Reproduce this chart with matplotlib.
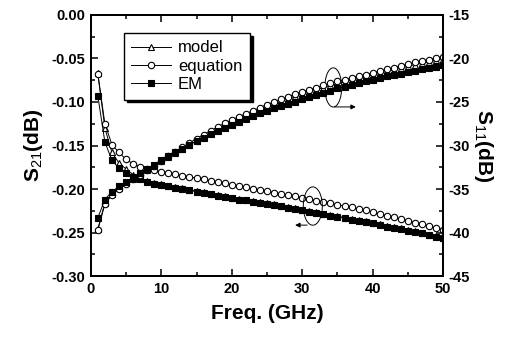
import matplotlib
matplotlib.use('Agg')
import matplotlib.pyplot as plt
import numpy as np
from matplotlib.patches import Ellipse
from matplotlib.ticker import MultipleLocator, FormatStrFormatter

plt.rcParams['font.family'] = ['Liberation Sans', 'DejaVu Sans']
plt.rcParams['axes.unicode_minus'] = False
plt.rcParams['mathtext.fontset'] = 'custom'
plt.rcParams['mathtext.rm'] = 'Liberation Sans'
plt.rcParams['mathtext.bf'] = 'Liberation Sans:bold'

freq = list(range(1, 51))

# S21 (left axis, dB)
s21_model = [-0.067, -0.130, -0.158, -0.170, -0.177, -0.1835, -0.1875, -0.1905, -0.193, -0.1947,
             -0.1962, -0.1977, -0.1992, -0.2007, -0.2022, -0.2037, -0.2052, -0.2067, -0.2082, -0.2097,
             -0.2112, -0.2122, -0.2137, -0.2147, -0.2162, -0.2177, -0.2192, -0.2207, -0.2222, -0.2237,
             -0.2252, -0.2267, -0.2282, -0.2297, -0.2312, -0.2327, -0.2342, -0.2357, -0.2372, -0.2387,
             -0.2402, -0.2422, -0.2437, -0.2452, -0.2472, -0.2487, -0.2502, -0.2522, -0.2542, -0.2559]
s21_equation = [-0.068, -0.125, -0.149, -0.158, -0.166, -0.171, -0.1745, -0.177, -0.1785, -0.180,
                -0.1815, -0.183, -0.1845, -0.186, -0.1875, -0.189, -0.1905, -0.192, -0.1935, -0.195,
                -0.1965, -0.198, -0.1995, -0.201, -0.2025, -0.204, -0.2055, -0.207, -0.2085, -0.210,
                -0.2115, -0.2135, -0.215, -0.2165, -0.218, -0.2195, -0.221, -0.223, -0.2245, -0.2265,
                -0.2285, -0.2305, -0.2325, -0.2345, -0.2365, -0.2385, -0.2405, -0.2425, -0.2445, -0.2465]
s21_em = [-0.093, -0.146, -0.167, -0.176, -0.182, -0.1865, -0.189, -0.192, -0.194, -0.1955,
          -0.197, -0.1985, -0.200, -0.2015, -0.203, -0.2045, -0.206, -0.2075, -0.209, -0.2105,
          -0.212, -0.213, -0.2145, -0.2155, -0.217, -0.2185, -0.220, -0.2215, -0.223, -0.2245,
          -0.226, -0.2275, -0.229, -0.2305, -0.232, -0.2335, -0.235, -0.2365, -0.238, -0.2395,
          -0.241, -0.243, -0.2445, -0.246, -0.248, -0.2495, -0.251, -0.253, -0.255, -0.2567]

# S11 (right axis, dB)
s11_model = [-39.6, -36.6, -35.6, -34.9, -34.35, -33.85, -33.3, -32.8, -32.3, -31.8,
             -31.35, -30.85, -30.35, -29.9, -29.45, -29.0, -28.55, -28.1, -27.7, -27.3,
             -26.95, -26.6, -26.25, -25.9, -25.55, -25.25, -24.95, -24.65, -24.35, -24.1,
             -23.85, -23.6, -23.35, -23.1, -22.9, -22.7, -22.5, -22.3, -22.1, -21.9,
             -21.7, -21.5, -21.3, -21.1, -20.9, -20.7, -20.55, -20.4, -20.2, -20.05]
s11_equation = [-39.7, -36.7, -35.7, -35.0, -34.4, -33.9, -33.35, -32.8, -32.3, -31.8,
                -31.2, -30.7, -30.2, -29.7, -29.2, -28.75, -28.3, -27.85, -27.45, -27.05,
                -26.7, -26.35, -26.0, -25.65, -25.3, -25.0, -24.7, -24.4, -24.1, -23.85,
                -23.6, -23.35, -23.1, -22.85, -22.65, -22.45, -22.25, -22.05, -21.85, -21.65,
                -21.45, -21.25, -21.05, -20.85, -20.65, -20.45, -20.3, -20.15, -19.95, -19.8]
s11_em = [-38.3, -36.2, -35.3, -34.7, -34.2, -33.7, -33.2, -32.7, -32.2, -31.7,
          -31.25, -30.8, -30.35, -29.9, -29.5, -29.1, -28.7, -28.3, -27.95, -27.6,
          -27.25, -26.9, -26.6, -26.3, -26.0, -25.7, -25.45, -25.2, -24.95, -24.7,
          -24.45, -24.2, -23.95, -23.7, -23.45, -23.25, -23.05, -22.85, -22.65, -22.45,
          -22.25, -22.05, -21.9, -21.75, -21.6, -21.4, -21.25, -21.1, -20.95, -20.75]

fig = plt.figure(figsize=(5.1, 3.38), dpi=100)
ax = fig.add_axes([0.178, 0.183, 0.691, 0.773])
ax2 = ax.twinx()

lw = 0.7
mk = dict(color='k', lw=lw, mec='k', mew=0.8)
h1, = ax.plot(freq, s21_model, marker='^', ms=4.6, mfc='white', label='model', **mk)
h2, = ax.plot(freq, s21_equation, marker='o', ms=4.6, mfc='white', label='equation', **mk)
h3, = ax.plot(freq, s21_em, marker='s', ms=3.8, mfc='k', label='EM', **mk)
ax2.plot(freq, s11_model, marker='^', ms=4.6, mfc='white', **mk)
ax2.plot(freq, s11_equation, marker='o', ms=4.6, mfc='white', **mk)
ax2.plot(freq, s11_em, marker='s', ms=3.8, mfc='k', **mk)

ax.set_xlim(0, 50)
ax.set_ylim(-0.30, 0.00)
ax2.set_ylim(-45, -15)

ax.xaxis.set_major_locator(MultipleLocator(10))
ax.xaxis.set_minor_locator(MultipleLocator(5))
ax.yaxis.set_major_locator(MultipleLocator(0.05))
ax.yaxis.set_minor_locator(MultipleLocator(0.025))
ax.yaxis.set_major_formatter(FormatStrFormatter('%.2f'))
ax2.yaxis.set_major_locator(MultipleLocator(5))
ax2.yaxis.set_minor_locator(MultipleLocator(2.5))

ax.tick_params(which='both', direction='in', top=True, right=False, width=1.1,
               labelsize=10.5, pad=4)
ax.tick_params(which='major', length=5)
ax.tick_params(which='minor', length=3)
ax2.tick_params(which='both', direction='in', width=1.1, labelsize=10.5, pad=4)
ax2.tick_params(which='major', length=5)
ax2.tick_params(which='minor', length=3)
for lab in ax.get_xticklabels() + ax.get_yticklabels() + ax2.get_yticklabels():
    lab.set_fontweight('bold')

for a in (ax, ax2):
    for s in a.spines.values():
        s.set_linewidth(1.4)

ax.set_xlabel('Freq. (GHz)', fontsize=15, fontweight='bold', labelpad=6)
ax.set_ylabel(r'$\mathbf{S}_{\mathrm{21}}\mathbf{(dB)}$', fontsize=15, labelpad=5)
ax2.set_ylabel(r'$\mathbf{S}_{\mathrm{11}}\mathbf{(dB)}$', fontsize=15, rotation=270,
               labelpad=18)

# ellipses and arrows marking which axis each family belongs to
ax.add_patch(Ellipse((34.4, -0.0833), 2.4, 0.045, fill=False, ec='k', lw=0.7, zorder=5))
ax.annotate('', xy=(38.0, -0.1057), xytext=(34.2, -0.1057),
            arrowprops=dict(arrowstyle='-|>', color='k', lw=0.7, mutation_scale=7))
ax.add_patch(Ellipse((31.5, -0.2195), 2.7, 0.044, fill=False, ec='k', lw=0.7, zorder=5))
ax.annotate('', xy=(28.6, -0.2414), xytext=(31.1, -0.2414),
            arrowprops=dict(arrowstyle='-|>', color='k', lw=0.7, mutation_scale=7))

leg = ax2.legend(handles=[h1, h2, h3], loc='upper left', bbox_to_anchor=(0.094, 0.931),
                 borderaxespad=0, fancybox=False, fontsize=12, numpoints=1,
                 handlelength=2.4, handletextpad=0.4, labelspacing=0.2,
                 borderpad=0.45, framealpha=1,
                 shadow=dict(fc='black', ec='black', alpha=1))
leg.get_frame().set_edgecolor('k')
leg.get_frame().set_linewidth(1.0)

fig.savefig('out.png', dpi=100)
